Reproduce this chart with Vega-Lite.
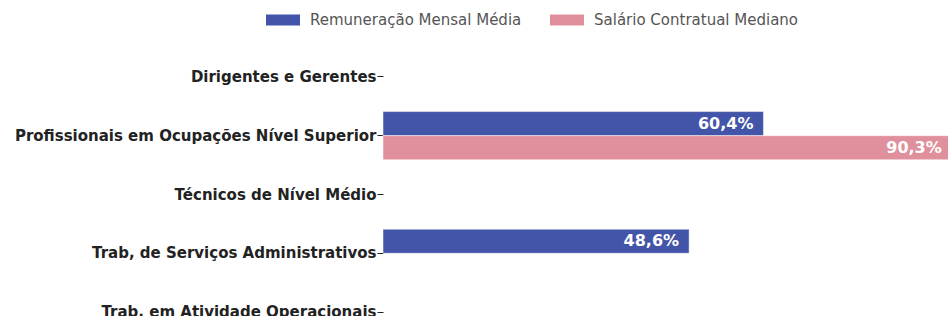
{
  "$schema": "https://vega.github.io/schema/vega-lite/v6.json",
  "width": 565,
  "height": 307,
  "padding": {"left": 383, "top": 41, "right": 0, "bottom": 0},
  "autosize": {"type": "none"},
  "config": {"view": {"stroke": null}, "font": "DejaVu Sans"},
  "data": {"values": [
    {"categoria": "Profissionais em Ocupações Nível Superior", "serie": "Remuneração Mensal Média", "valor": 60.4, "rotulo": "60,4%"},
    {"categoria": "Profissionais em Ocupações Nível Superior", "serie": "Salário Contratual Mediano", "valor": 90.3, "rotulo": "90,3%"},
    {"categoria": "Trab, de Serviços Administrativos", "serie": "Remuneração Mensal Média", "valor": 48.6, "rotulo": "48,6%"}
  ]},
  "encoding": {
    "y": {"field": "categoria", "type": "nominal", "title": null,
      "scale": {"domain": ["Dirigentes e Gerentes", "Profissionais em Ocupações Nível Superior", "Técnicos de Nível Médio", "Trab, de Serviços Administrativos", "Trab, em Atividade Operacionais"], "paddingInner": 0.18, "paddingOuter": 0.2},
      "axis": {"domain": false, "labelFontWeight": "bold", "labelFontSize": 15, "labelColor": "#222", "tickColor": "#222", "tickSize": 6, "labelPadding": 1, "labelLimit": 450}},
    "yOffset": {"field": "serie", "type": "nominal", "scale": {"domain": ["Remuneração Mensal Média", "Salário Contratual Mediano"]}},
    "x": {"field": "valor", "type": "quantitative", "title": null, "scale": {"domain": [0, 89.7], "nice": false}, "axis": null}
  },
  "layer": [
    {"mark": {"type": "bar", "stroke": "white", "strokeWidth": 0.5},
      "encoding": {"color": {"field": "serie", "type": "nominal", "title": null,
        "scale": {"domain": ["Remuneração Mensal Média", "Salário Contratual Mediano"], "range": ["#4355a8", "#e08f9c"]},
        "legend": {"orient": "none", "legendX": -117, "legendY": -38, "direction": "horizontal", "symbolType": "M-1,-0.32H1V0.32H-1Z", "symbolSize": 1156, "symbolStrokeWidth": 0, "labelFontSize": 15, "labelColor": "#555", "labelLimit": 400, "labelOffset": 10, "columnPadding": 28}}}},
    {"mark": {"type": "text", "align": "right", "dx": -10, "color": "white", "fontWeight": "bold", "fontSize": 16},
      "encoding": {"text": {"field": "rotulo"}}}
  ]
}
